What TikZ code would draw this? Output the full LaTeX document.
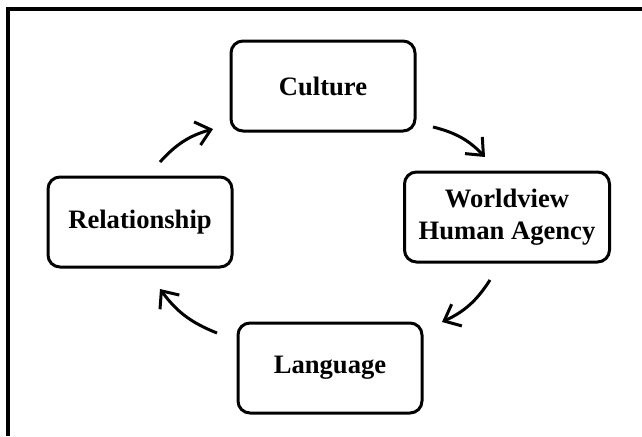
\documentclass[tikz,border=0pt]{standalone}
\usepackage{fontspec}
\setmainfont{Liberation Serif}
\usetikzlibrary{arrows.meta}
\tikzset{stagebox/.style={
  shape=rectangle,
  draw=black,
  line width=1.5pt,
  rounded corners=6pt,
  minimum width=92pt,
  minimum height=45pt,
  align=center,
  font=\fontsize{13.3}{16}\selectfont\bfseries,
  text = black,
  },
  cyclearrow/.style={
  line width=1.5pt,
  -{Straight Barb[length=7pt,width=12pt]},
  bend left=16,
  }
}

\begin{document}
\begin{tikzpicture}[x=0.5pt,y=0.5pt]
      \useasboundingbox (0,0) rectangle (642,436);
      % outer frame
      \draw [line width=2pt] (8,0) -- (8,427) -- (642,427);

      \node [stagebox] (culture) at (323,350) {Culture};
      \node [stagebox, minimum width=102.5pt] (worldview) at (507,219) {Worldview\\Human Agency};
      \node [stagebox] (language) at (330,68) {Language};
      \node [stagebox] (relationship) at (140,214) {Relationship};

      \coordinate (r1) at (160,274);
      \coordinate (c1) at (213,307);
      \coordinate (c2) at (433,309);
      \coordinate (w1) at (485,279);
      \coordinate (w2) at (490,156);
      \coordinate (l1) at (442,114);
      \coordinate (l2) at (217,103);
      \coordinate (r2) at (160,147);

      \draw [cyclearrow] (r1) to (c1);
      \draw [cyclearrow] (c2) to (w1);
      \draw [cyclearrow] (w2) to (l1);
      \draw [cyclearrow] (l2) to (r2);
    \end{tikzpicture}
\end{document}
